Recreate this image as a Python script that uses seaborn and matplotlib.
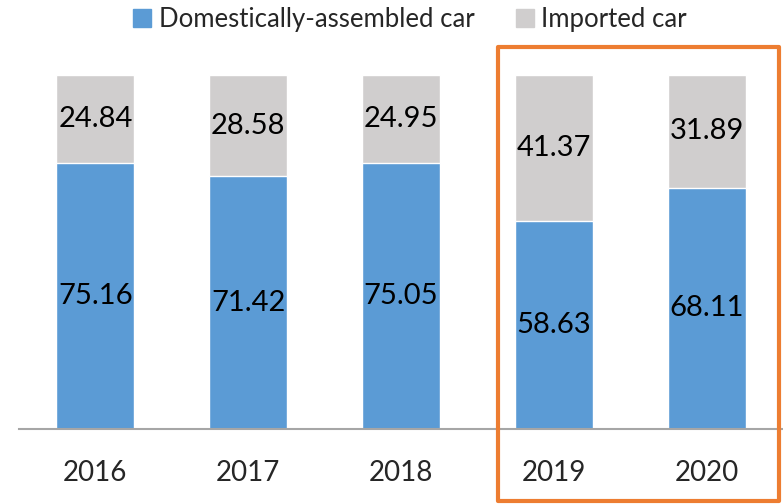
import numpy as np
import pandas as pd
import seaborn as sns
import matplotlib.pyplot as plt
from matplotlib.patches import Rectangle, Patch

# data
years = ['2016', '2017', '2018', '2019', '2020']
domestic = [75.16, 71.42, 75.05, 58.63, 68.11]
imported = [24.84, 28.58, 24.95, 41.37, 31.89]

blue = '#5B9BD5'
grey = '#D0CECE'
orange = '#ED7D31'

sns.set_style('white')
plt.rcParams['font.family'] = ['Lato', 'DejaVu Sans']

df = pd.DataFrame({'year': years, 'domestic': domestic, 'imported': imported})
df['total'] = df['domestic'] + df['imported']

fig = plt.figure(figsize=(7.83, 5.04), dpi=100)
ax = fig.add_axes([19 / 783, 1 - 429 / 504, 1 - 19 / 783, (429 - 75) / 504])

# grey full-height bar, blue bar on top of it from zero
sns.barplot(data=df, x='year', y='total', color=grey, width=0.51,
            saturation=1, ax=ax)
sns.barplot(data=df, x='year', y='domestic', color=blue, width=0.51,
            saturation=1, ax=ax)

for i, (d, m) in enumerate(zip(domestic, imported)):
    ax.text(i, d / 2, f'{d:.2f}', ha='center', va='center', fontsize=21, color='black')
    ax.text(i, d + m / 2, f'{m:.2f}', ha='center', va='center', fontsize=21, color='black')

ax.set_ylim(0, 100)
ax.set_xlim(-0.5, 4.5)
ax.set_xlabel('')
ax.set_ylabel('')
ax.set_yticks([])
ax.tick_params(axis='x', length=0, labelsize=20, pad=22)
for s in ['top', 'right', 'left']:
    ax.spines[s].set_visible(False)
ax.spines['bottom'].set_color('#A6A6A6')
ax.spines['bottom'].set_linewidth(1.5)

# orange highlight box around 2019-2020
fig.patches.append(Rectangle((498 / 783, 1 - 501 / 504), (779 - 498) / 783, (501 - 47) / 504,
                             transform=fig.transFigure, fill=False, edgecolor=orange,
                             linewidth=3, joinstyle='round'))

handles = [Patch(color=blue, label='Domestically-assembled car'),
           Patch(color=grey, label='Imported car')]
fig.legend(handles=handles, loc='center', bbox_to_anchor=(410 / 783, 1 - 19 / 504),
           ncol=2, frameon=False, fontsize=18.5, handlelength=0.7, handleheight=0.7,
           handletextpad=0.3, columnspacing=1.6)

fig.savefig('out.png', dpi=100)
